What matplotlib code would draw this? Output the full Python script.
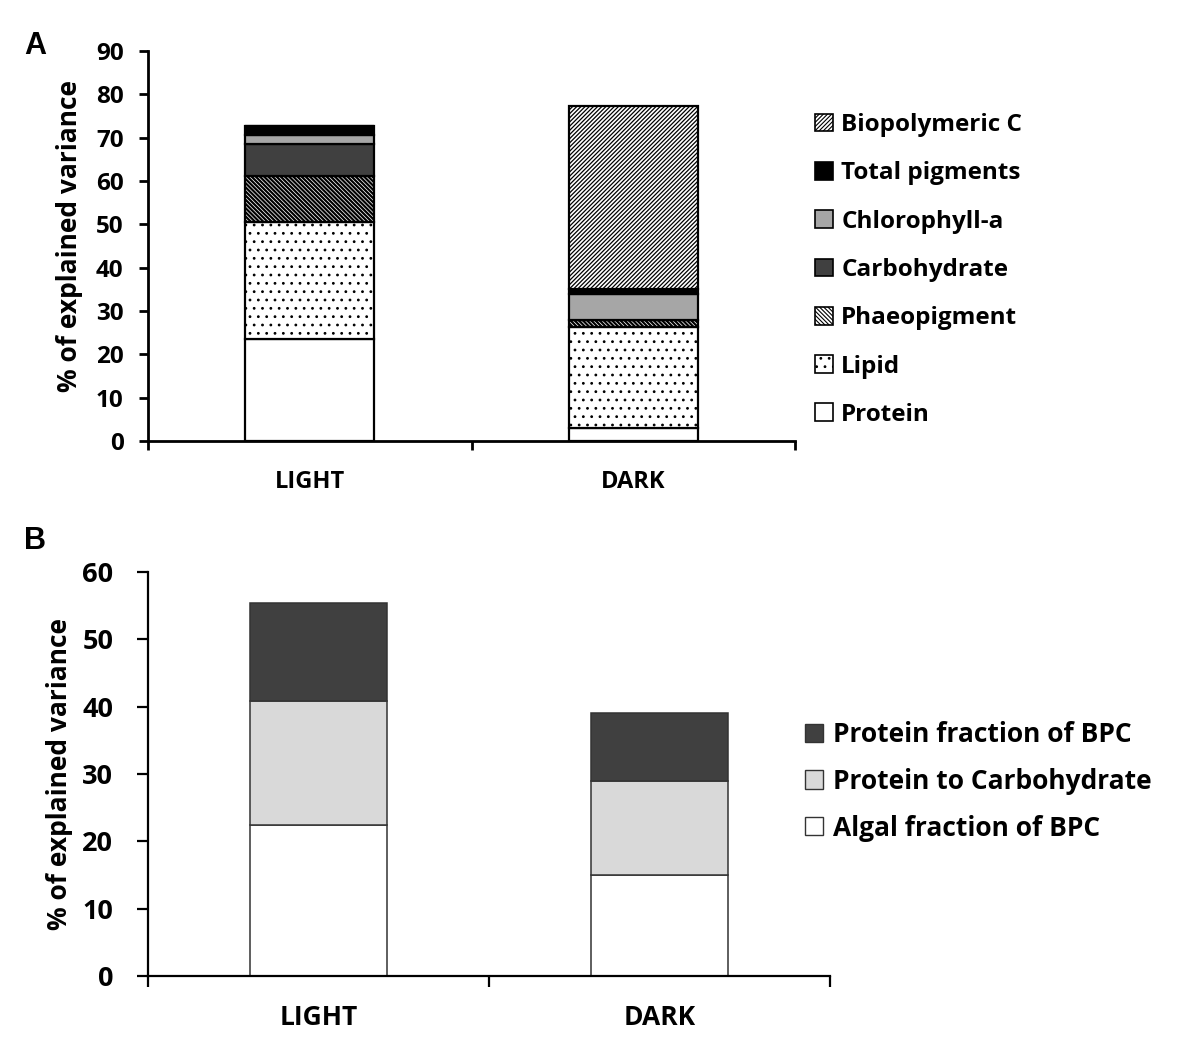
import matplotlib
matplotlib.use("Agg")
import matplotlib.pyplot as plt
from matplotlib.patches import Patch
import numpy as np

plt.rcParams['font.family'] = ['Open Sans', 'DejaVu Sans']
plt.rcParams['font.weight'] = 'bold'
plt.rcParams['hatch.linewidth'] = 0.8

# ---- data ----
categories = ["LIGHT", "DARK"]

a_series = ["Protein", "Lipid", "Phaeopigment", "Carbohydrate",
            "Chlorophyll-a", "Total pigments", "Biopolymeric C"]
protein = [23.5, 3.0]
lipid = [27.0, 23.3]
phaeopigment = [10.7, 1.7]
carbohydrate = [7.4, 0.0]
chlorophyll_a = [2.0, 6.0]
total_pigments = [2.0, 1.0]
biopolymeric_c = [0.0, 42.4]
a_values = [protein, lipid, phaeopigment, carbohydrate,
            chlorophyll_a, total_pigments, biopolymeric_c]

b_series = ["Algal fraction of BPC", "Protein to Carbohydrate", "Protein fraction of BPC"]
algal_fraction = [22.5, 15.0]
protein_to_carb = [18.4, 13.9]
protein_fraction = [14.5, 10.1]
b_values = [algal_fraction, protein_to_carb, protein_fraction]

a_ticks = list(range(0, 91, 10))
b_ticks = list(range(0, 61, 10))

# ---- styles ----
a_styles = [
    dict(facecolor="white", hatch=None, hlw=0.8),
    dict(facecolor="white", hatch="..", hlw=0.8),
    dict(facecolor="white", hatch="\\\\\\\\\\\\\\\\", hlw=1.6),
    dict(facecolor="#404040", hatch=None, hlw=0.8),
    dict(facecolor="#a6a6a6", hatch=None, hlw=0.8),
    dict(facecolor="black", hatch=None, hlw=0.8),
    dict(facecolor="white", hatch="////////", hlw=0.9),
]
b_colors = ["white", "#d9d9d9", "#404040"]

W, H = 1183, 1050
fig = plt.figure(figsize=(W / 100, H / 100), dpi=100)


def px_axes(left, top, right, bottom):
    return fig.add_axes([left / W, 1 - bottom / H, (right - left) / W, (bottom - top) / H])


def set_hlw(artist, lw):
    if hasattr(artist, "set_hatch_linewidth"):
        artist.set_hatch_linewidth(lw)


def style_axis(ax, lw, ticksize, xticksize, ylim, yticks, labelsize, xpad, ypad, ticklen):
    ax.set_xlim(-0.5, 1.5)
    ax.set_ylim(*ylim)
    ax.set_yticks(yticks)
    ax.set_xticks(range(len(categories)))
    ax.set_xticklabels(categories)
    ax.set_xticks([-0.5, 0.5, 1.5], minor=True)
    ax.tick_params(axis='x', which='major', length=0, pad=xpad, labelsize=xticksize)
    ax.tick_params(axis='x', which='minor', length=ticklen, width=lw, direction='out')
    ax.tick_params(axis='y', length=ticklen, width=lw, direction='out', pad=ypad,
                   labelsize=ticksize)
    for s in ['top', 'right']:
        ax.spines[s].set_visible(False)
    for s in ['left', 'bottom']:
        ax.spines[s].set_linewidth(lw)
    ax.set_ylabel("% of explained variance", fontsize=labelsize, fontweight='bold')


# ---- Panel A ----
axA = px_axes(148, 51, 795, 441)
x = np.arange(len(categories))
bottom = np.zeros(len(categories))
handlesA = []
for name, vals, st in zip(a_series, a_values, a_styles):
    vals = np.array(vals)
    plt.rcParams['hatch.linewidth'] = st['hlw']
    bars = axA.bar(x, vals, 0.4, bottom=bottom, facecolor=st['facecolor'], hatch=st['hatch'],
                   edgecolor='black', linewidth=1.6)
    for b in bars:
        set_hlw(b, st['hlw'])
    p = Patch(facecolor=st['facecolor'], hatch=st['hatch'], edgecolor='black',
              linewidth=1.2, label=name)
    set_hlw(p, st['hlw'])
    handlesA.append(p)
    bottom += vals
plt.rcParams['hatch.linewidth'] = 0.8
style_axis(axA, 2.0, 17.5, 17, (0, 90), a_ticks, 19, 21, 11, 6.5)
axA.yaxis.set_label_coords(-0.100, 0.525)
legA = fig.legend(handles=handlesA[::-1], loc='upper left', bbox_to_anchor=(815 / W, 1 - 113 / H),
                  frameon=False, fontsize=17.5, handlelength=0.75, handleheight=0.75,
                  handletextpad=0.33, labelspacing=1.0, borderpad=0, borderaxespad=0)

# ---- Panel B ----
axB = px_axes(148, 572, 830, 976)
bottom = np.zeros(len(categories))
handlesB = []
for name, vals, c in zip(b_series, b_values, b_colors):
    vals = np.array(vals)
    axB.bar(x, vals, 0.4, bottom=bottom, facecolor=c, edgecolor='#333333', linewidth=1.1)
    handlesB.append(Patch(facecolor=c, edgecolor='#333333', linewidth=1.0, label=name))
    bottom += vals
style_axis(axB, 1.6, 19.5, 19, (0, 60), b_ticks, 19, 20, 17, 8)
axB.yaxis.set_label_coords(-0.110, 0.5)
legB = fig.legend(handles=handlesB[::-1], loc='upper left', bbox_to_anchor=(805 / W, 1 - 721 / H),
                  frameon=False, fontsize=19, handlelength=0.68, handleheight=0.68,
                  handletextpad=0.38, labelspacing=0.75, borderpad=0, borderaxespad=0)

# panel letters
fig.text(24 / W, 1 - 46 / H, "A", fontsize=22, fontweight='bold', family='Liberation Sans',
         va='center', ha='left')
fig.text(24 / W, 1 - 541 / H, "B", fontsize=22, fontweight='bold', family='Liberation Sans',
         va='center', ha='left')

fig.savefig("out.png", dpi=100)
